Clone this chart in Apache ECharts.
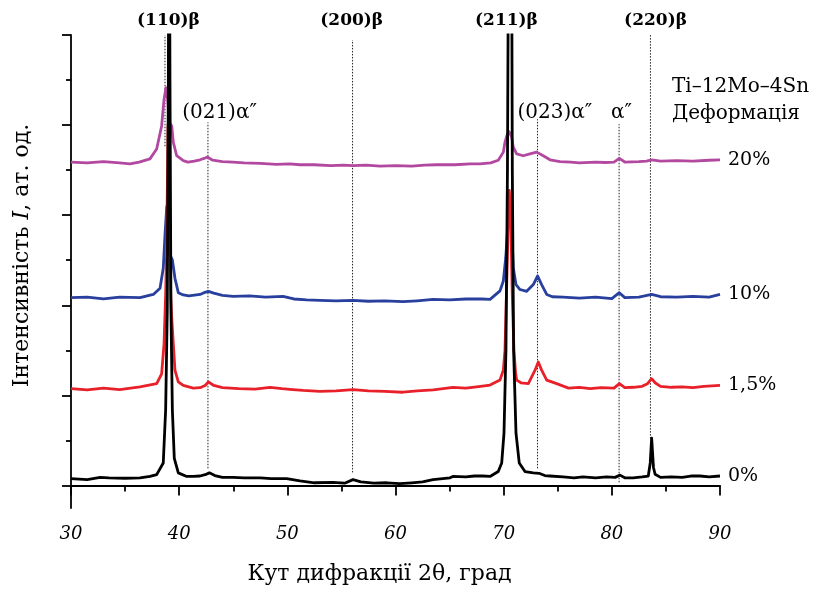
<!DOCTYPE html>
<html><head><meta charset="utf-8">
<script src="https://cdn.jsdelivr.net/npm/echarts@6/dist/echarts.min.js"></script>
<style>html,body{margin:0;padding:0;background:#fff}#c{width:814px;height:590px}</style>
</head><body><div id="c"></div>
<script>
// ---- data: [2θ (deg), intensity (arb. units, curves offset)] ----
const seriesNames = ['20%', '10%', '1,5%', '0%'];
const seriesColors = ['#b2489f', '#283f9e', '#e8202a', '#000000'];

const pattern20 = [[30,718],[31.5,716],[33,719],[34.5,716],[35.45,714],[36.3,718],[37.3,725],[37.92,747],[38.38,798],[38.6,857],[38.78,883],[38.94,857],[39.09,806],[39.31,798],[39.46,762],[39.77,732],[40.38,721],[40.8,718],[41.4,720],[41.93,723],[42.3,726],[42.6,729],[43.1,722],[44,719],[44.98,718],[46,716],[47.5,715],[49,713],[50.2,714],[51.17,712],[52.5,712],[54,710],[55.2,711],[56.07,710],[57.3,711],[58.57,709],[60,710],[61.5,709],[62.7,711],[63.81,712],[65.5,712],[66.9,714],[67.8,714],[68.8,716],[69.5,722],[69.97,740],[70.12,762],[70.34,780],[70.52,785],[70.74,773],[70.89,751],[71.2,736],[71.81,732],[72.43,736],[73.05,740],[73.66,732],[74.28,723],[75.21,719],[76.2,718],[77,716],[78.5,718],[79.4,717],[80.2,718],[80.69,726],[81.2,718],[82.5,719],[83.2,720],[83.68,723],[84.5,720],[86,721],[87.5,720],[89,722],[90,723]];

const pattern10 = [[30,417],[31.5,418],[33,414],[34.5,418],[36.38,417],[37.61,424],[38.23,438],[38.53,482],[38.69,556],[38.85,619],[39.0,571],[39.15,512],[39.37,501],[39.61,460],[39.92,428],[40.38,423],[40.9,421],[41.93,424],[42.3,428],[42.7,431],[43.2,427],[44,422],[45,420],[46.5,421],[48,418],[49.6,420],[50.6,414],[51.79,412],[53,411],[54.5,410],[56.07,411],[57.5,409],[59,410],[60.69,408],[62,410],[63.47,413],[65,412],[66.5,414],[68,414],[68.74,413],[69.66,432],[69.97,454],[70.19,505],[70.37,571],[70.58,593],[70.74,564],[70.89,483],[71.14,446],[71.51,435],[72.13,431],[72.74,446],[73.14,465],[73.51,446],[73.98,424],[74.5,419],[75.5,418],[77,416],[78.5,418],[80,415],[80.69,428],[81.2,417],[82.5,418],[83.68,424],[84.5,419],[86,418],[87.5,420],[89,418],[90,424]];

const pattern15 = [[30,215],[31.5,212],[33,216],[34.5,213],[36.38,219],[37.92,226],[38.38,248],[38.6,314],[38.75,424],[38.85,534],[38.97,800],[39.12,560],[39.22,420],[39.31,373],[39.46,314],[39.61,256],[39.92,230],[40.38,222],[41.3,216],[41.93,217],[42.4,222],[42.7,230],[43.2,222],[44,217],[45.5,215],[47,214],[48.4,218],[49.5,215],[50.5,213],[51.45,211],[53,209],[54.5,210],[56.07,213],[57.5,210],[59,209],[60.69,207],[62,210],[63.5,212],[65.31,218],[66.5,216],[67.5,219],[68.74,223],[69.66,234],[69.97,256],[70.12,300],[70.28,446],[70.43,593],[70.52,655],[70.65,600],[70.8,420],[70.95,300],[71.1,250],[71.2,234],[71.6,228],[72.28,226],[72.9,256],[73.2,274],[73.51,256],[73.98,234],[74.9,226],[76,216],[77,218],[78,215],[79,217],[80.2,216],[80.7,226],[81.2,217],[82,218],[82.8,220],[83.3,226],[83.68,237],[84,228],[84.5,220],[85.5,218],[86.5,219],[87.5,217],[88.5,220],[90,222]];

const pattern0 = [[30,15],[31.5,13],[32.7,18],[33.5,17],[35,16],[36.38,17],[37.3,20],[37.92,24],[38.53,50],[38.75,168],[38.9,388],[39.0,900],[39.07,1500],[39.15,900],[39.24,388],[39.37,168],[39.55,60],[39.92,28],[40.7,20],[41.3,20],[41.93,21],[42.4,24],[42.79,28],[43.3,22],[44,18],[44.98,18],[46,17],[47.5,17],[48.5,15],[49.94,15],[51.17,10],[52.5,6],[54.22,7],[55.3,5],[56.07,13],[56.8,8],[58,5],[59.19,6],[60.4,4],[61.5,6],[62.5,8],[63.47,13],[65.04,17],[65.3,20],[66.5,19],[67.3,21],[68.09,21],[68.74,20],[69.5,31],[69.82,50],[70.03,116],[70.21,300],[70.35,700],[70.5,1500],[70.7,1500],[70.8,700],[70.92,300],[71.14,116],[71.44,50],[71.97,31],[72.74,28],[73.27,27],[73.8,22],[74.28,21],[75.5,19],[76.5,17],[77.33,19],[78.5,17],[79.5,19],[80.3,18],[80.75,23],[81.2,17],[81.98,17],[82.8,19],[83.37,21],[83.55,50],[83.68,105],[83.85,40],[84.0,25],[84.5,18],[85.5,19],[86.5,18],[87.3,21],[88.15,21],[89,19],[90,21]];

const seriesData = [pattern20, pattern10, pattern15, pattern0];

// reference (dotted) lines: angle, bottom level, top level
const refAngles = [38.69, 42.66, 56.03, 73.13, 80.67, 83.57];
const refBottoms = [753, 38, 29, 38, 7, 104];
const refTops = [1000, 806, 989, 813, 802, 1000];

// peak labels: text, angle, level
const peakTexts = ['(110)β', '(200)β', '(211)β', '(220)β', '(021)α″', '(023)α″', 'α″'];
const peakAngles = [39.01, 55.95, 70.26, 84.04, 43.73, 74.74, 80.89];
const peakLevels = [1031, 1031, 1031, 1031, 828, 828, 828];
const peakBold = [true, true, true, true, false, false, false];

const yMajorTicks = [0, 200, 400, 600, 800, 1000];
const yMinorTicks = [100, 300, 500, 700, 900];

const FONT = 'DejaVu Serif';
const axisStyle = {color: '#000', width: 1.8};

const series = [];
refAngles.forEach((a, i) => {
  series.push({
    type: 'line', silent: true, showSymbol: false, symbol: 'none', z: 1,
    data: [[a, refBottoms[i]], [a, refTops[i]]],
    lineStyle: {color: '#222', width: 1, type: [1.5, 1.5]}
  });
});
seriesNames.forEach((n, i) => {
  series.push({
    type: 'line', name: n, showSymbol: false, symbol: 'none', z: 2,
    data: seriesData[i],
    lineStyle: {color: seriesColors[i], width: 2.8, join: 'round'},
    itemStyle: {color: seriesColors[i]},
    endLabel: {show: true, formatter: n, fontFamily: FONT, fontSize: 19, color: '#000', distance: 8}
  });
});

const option = {
  animation: false,
  backgroundColor: '#fff',
  grid: {left: 71, right: 94, top: 35, bottom: 78},
  xAxis: {
    type: 'value', min: 30, max: 90, interval: 10,
    axisLine: {lineStyle: axisStyle},
    axisTick: {length: 10, lineStyle: axisStyle},
    minorTick: {show: true, splitNumber: 2, length: 6, lineStyle: axisStyle},
    splitLine: {show: false}, minorSplitLine: {show: false},
    axisLabel: {fontFamily: FONT, fontStyle: 'italic', fontSize: 18, color: '#000', margin: 17},
    name: 'Кут дифракції 2θ, град', nameLocation: 'middle', nameGap: 55,
    nameTextStyle: {fontFamily: FONT, fontSize: 22, color: '#000', padding: [0, 32, 0, 0]}
  },
  yAxis: [{
    type: 'value', min: -50, max: 1000,
    axisLine: {show: true, lineStyle: axisStyle},
    axisTick: {show: true, customValues: yMajorTicks, length: 9, lineStyle: axisStyle},
    axisLabel: {show: false},
    splitLine: {show: false},
    name: 'Інтенсивність {i|I}, ат. од.', nameLocation: 'middle', nameGap: 38,
    nameTextStyle: {fontFamily: FONT, fontSize: 22, color: '#000', padding: [0, 0, 0, 32],
      rich: {i: {fontFamily: FONT, fontSize: 22, fontStyle: 'italic', color: '#000'}}}
  }, {
    type: 'value', min: -50, max: 1000, position: 'left',
    axisLine: {show: false},
    axisTick: {show: true, customValues: yMinorTicks, length: 5, lineStyle: axisStyle},
    axisLabel: {show: false},
    splitLine: {show: false}
  }],
  series: series
};

const chart = echarts.init(document.getElementById('c'));
chart.setOption(option);

const g = [];
peakTexts.forEach((t, i) => {
  const p = chart.convertToPixel({xAxisIndex: 0, yAxisIndex: 0}, [peakAngles[i], peakLevels[i]]);
  g.push({
    type: 'text', x: p[0], y: p[1], z: 10,
    style: {text: t, fill: '#000', fontFamily: FONT, fontSize: peakBold[i] ? 17 : 20,
      fontWeight: peakBold[i] ? 'bold' : 'normal',
      textAlign: 'center', textVerticalAlign: 'middle', align: 'center', verticalAlign: 'middle'}
  });
});
g.push({type: 'text', left: 672, top: 77, z: 10,
  style: {text: 'Ti–12Mo–4Sn', fill: '#000', fontFamily: FONT, fontSize: 20}});
g.push({type: 'text', left: 672, top: 104, z: 10,
  style: {text: 'Деформація', fill: '#000', fontFamily: FONT, fontSize: 20}});
chart.setOption({graphic: g});
</script></body></html>
